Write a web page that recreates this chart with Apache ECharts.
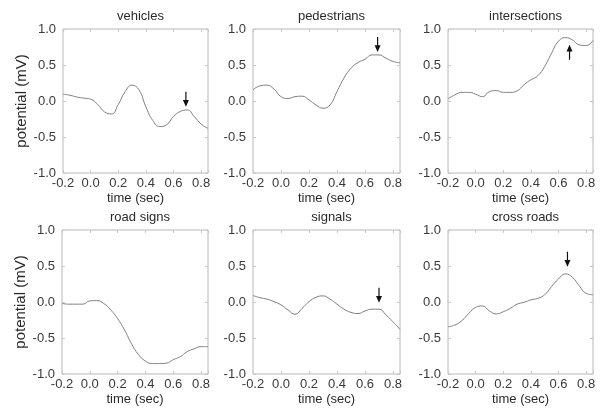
<!DOCTYPE html>
<html>
<head>
<meta charset="utf-8">
<script src="https://cdn.jsdelivr.net/npm/echarts@6/dist/echarts.min.js"></script>
<style>
html,body{margin:0;padding:0;background:#fff;}
#main{width:603px;height:409px;}
</style>
</head>
<body>
<div id="main"></div>
<script>
// time axis (sec), shared by all panels
var time = [-0.2,-0.15,-0.1,-0.05,0,0.05,0.1,0.15,0.2,0.25,0.3,0.35,0.4,0.45,0.5,0.55,0.6,0.65,0.7,0.75,0.8,0.85];

var names = ['vehicles','pedestrians','intersections','road signs','signals','cross roads'];

// potential (mV)
var vehicles      = [0.095,0.08,0.055,0.04,0.025,-0.045,-0.15,-0.18,-0.05,0.13,0.22,0.155,-0.08,-0.27,-0.355,-0.33,-0.215,-0.145,-0.125,-0.215,-0.32,-0.38];
var pedestrians   = [0.155,0.21,0.22,0.165,0.06,0.035,0.06,0.067,0.015,-0.055,-0.10,-0.055,0.13,0.32,0.455,0.535,0.58,0.64,0.64,0.595,0.55,0.53];
var intersections = [0.03,0.085,0.12,0.12,0.095,0.06,0.13,0.145,0.12,0.12,0.14,0.225,0.295,0.35,0.48,0.665,0.83,0.88,0.85,0.78,0.77,0.84];
var roadSigns     = [-0.02,-0.03,-0.03,-0.03,0.015,0.02,-0.02,-0.11,-0.23,-0.39,-0.58,-0.73,-0.82,-0.855,-0.855,-0.85,-0.80,-0.76,-0.69,-0.65,-0.62,-0.62];
var signals       = [0.09,0.06,0.04,0.005,-0.04,-0.11,-0.17,-0.09,0.005,0.065,0.085,0.04,-0.03,-0.10,-0.145,-0.16,-0.125,-0.10,-0.10,-0.18,-0.275,-0.38];
var crossRoads    = [-0.345,-0.32,-0.26,-0.16,-0.075,-0.055,-0.125,-0.165,-0.135,-0.09,-0.03,-0.005,0.03,0.05,0.1,0.215,0.32,0.39,0.345,0.225,0.12,0.10];
var curves = [vehicles, pedestrians, intersections, roadSigns, signals, crossRoads];

// arrow markers: time, tip value, direction (1 = pointing down, -1 = up)
var arrowT   = [0.69, 0.69, 0.68, 0.70, 0.665];
var arrowV   = [-0.08, 0.68, 0.78, -0.01, 0.49];
var arrowDir = [1, 1, -1, 1, 1];
var arrowPanel = [0, 1, 2, 4, 5];

var font = "'Liberation Sans', Arial, sans-serif";
var gridPos = [
	{left:63, top:29, width:145, height:144},
	{left:253, top:29, width:147, height:144},
	{left:448, top:29, width:145, height:144},
	{left:62, top:230, width:146, height:144},
	{left:253, top:230, width:147, height:144},
	{left:448, top:230, width:145, height:144}
];

var arrowPath = 'path://M4,0 L6,0 L6,11 L10,11 L5,20 L0,11 L4,11 Z';

function xLabel(v){
	var k = v * 5;
	if (Math.abs(k - Math.round(k)) > 1e-6) return '';
	return (Math.round(k) / 5).toFixed(1);
}

var grids = [], xAxes = [], yAxes = [], series = [], titles = [];
for (var i = 0; i < 6; i++) {
	var g = gridPos[i];
	grids.push({left:g.left, top:g.top, width:g.width, height:g.height, show:true,
		borderColor:'#b8b8b8', borderWidth:1});
	titles.push({text:names[i], left:g.left + g.width/2, top:g.top - 24, textAlign:'center',
		textStyle:{fontSize:13, fontWeight:'normal', color:'#2a2a2a', fontFamily:font}});
	var base = {
		type:'value', gridIndex:i, min:-0.2, max:0.85, interval:0.2,
		axisLine:{show:false, onZero:false}, splitLine:{show:false},
		axisTick:{show:true, inside:true, length:3, lineStyle:{color:'#c8c8c8'}}
	};
	xAxes.push(Object.assign({}, base, {
		position:'bottom', name:'time (sec)', nameLocation:'middle', nameGap:19,
		nameTextStyle:{fontSize:13, color:'#2a2a2a', fontFamily:font},
		axisLabel:{margin:4, fontSize:13, color:'#3a3a3a', fontFamily:font, formatter:xLabel}
	}));
	xAxes.push(Object.assign({}, base, {position:'top', axisLabel:{show:false}}));
	var ybase = {
		type:'value', gridIndex:i, min:-1, max:1, interval:0.5,
		axisLine:{show:false, onZero:false}, splitLine:{show:false},
		axisTick:{show:true, inside:true, length:3, lineStyle:{color:'#c8c8c8'}}
	};
	var left = Object.assign({}, ybase, {
		position:'left',
		axisLabel:{margin:7, fontSize:13, color:'#3a3a3a', fontFamily:font, formatter:function(v){return v.toFixed(1);}}
	});
	if (i % 3 === 0) {
		left.name = 'potential (mV)';
		left.nameLocation = 'middle';
		left.nameGap = 34;
		left.nameTextStyle = {fontSize:15, color:'#2a2a2a', fontFamily:font};
	}
	yAxes.push(left);
	yAxes.push(Object.assign({}, ybase, {position:'right', axisLabel:{show:false}}));

	var pts = [];
	for (var k = 0; k < time.length; k++) pts.push([time[k], curves[i][k]]);
	var s = {
		type:'line', xAxisIndex:2*i, yAxisIndex:2*i, data:pts, smooth:0.5,
		showSymbol:false, silent:true, clip:true,
		lineStyle:{color:'#808080', width:1}
	};
	var marks = [];
	for (var a = 0; a < arrowPanel.length; a++) {
		if (arrowPanel[a] !== i) continue;
		marks.push({coord:[arrowT[a], arrowV[a]], symbol:arrowPath, symbolSize:[6,15],
			symbolRotate: arrowDir[a] > 0 ? 0 : 180,
			symbolOffset:[0, arrowDir[a] > 0 ? '-50%' : '50%'],
			itemStyle:{color:'#111'}, label:{show:false}});
	}
	if (marks.length) s.markPoint = {silent:true, animation:false, data:marks};
	series.push(s);
}

var myChart = echarts.init(document.getElementById('main'));
myChart.setOption({
	animation:false,
	backgroundColor:'#fff',
	title:titles,
	grid:grids,
	xAxis:xAxes,
	yAxis:yAxes,
	series:series
});
</script>
</body>
</html>
